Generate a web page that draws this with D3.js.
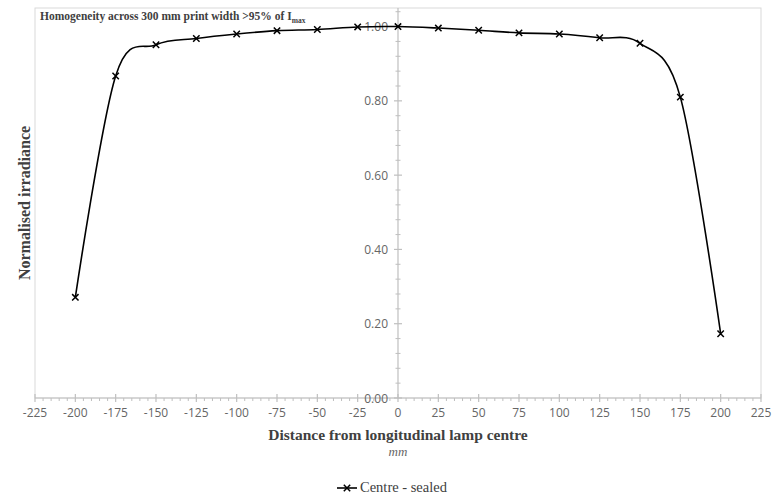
<!DOCTYPE html>
<html>
<head>
<meta charset="utf-8">
<script src="https://cdn.jsdelivr.net/npm/d3@7"></script>
<style>
  html, body { margin: 0; padding: 0; background: #ffffff; }
  svg { display: block; }
</style>
</head>
<body>
<svg id="chart" width="783" height="496"></svg>
<script>
// Lamp irradiance profile across the print width
const positions = [-200, -175, -150, -125, -100, -75, -50, -25, 0, 25, 50, 75, 100, 125, 150, 175, 200];
const irradiance = [0.271, 0.867, 0.951, 0.968, 0.980, 0.989, 0.992, 0.999, 1.000, 0.996, 0.990, 0.983, 0.980, 0.970, 0.955, 0.810, 0.173];
const seriesName = "Centre - sealed";
const xTicks = [-225, -200, -175, -150, -125, -100, -75, -50, -25, 0, 25, 50, 75, 100, 125, 150, 175, 200, 225];
const yTicks = [0, 0.2, 0.4, 0.6, 0.8, 1.0];

const svg = d3.select("#chart");
const plot = { left: 35, right: 761, top: 8, bottom: 398 };

const x = d3.scaleLinear().domain([-225, 225]).range([plot.left, plot.right]);
const y = d3.scaleLinear().domain([0, 1.05]).range([plot.bottom, plot.top]);

const gridGrey = "#d9d9d9";
const axisGrey = "#bfbfbf";
const labelGrey = "#666666";
const titleGrey = "#404040";
const serif = "'Liberation Serif', 'DejaVu Serif', serif";
const sans = "'Open Sans', 'Liberation Sans', sans-serif";

// plot area border
svg.append("rect")
  .attr("x", plot.left).attr("y", plot.top)
  .attr("width", plot.right - plot.left).attr("height", plot.bottom - plot.top)
  .attr("fill", "none").attr("stroke", gridGrey).attr("stroke-width", 1);

// horizontal axis (at value 0)
const y0 = y(0);
const gx = svg.append("g");
gx.append("line")
  .attr("x1", plot.left).attr("x2", plot.right)
  .attr("y1", y0).attr("y2", y0)
  .attr("stroke", axisGrey).attr("stroke-width", 1.2);
// minor ticks every 5 mm
gx.selectAll("line.minor")
  .data(d3.range(-225, 226, 5).filter(v => v % 25 !== 0))
  .join("line").attr("class", "minor")
  .attr("x1", d => x(d)).attr("x2", d => x(d))
  .attr("y1", y0).attr("y2", y0 + 3)
  .attr("stroke", axisGrey).attr("stroke-width", 1);
gx.selectAll("line.major")
  .data(xTicks)
  .join("line").attr("class", "major")
  .attr("x1", d => x(d)).attr("x2", d => x(d))
  .attr("y1", y0 - 4).attr("y2", y0 + 4)
  .attr("stroke", axisGrey).attr("stroke-width", 1.2);
gx.selectAll("text")
  .data(xTicks)
  .join("text")
  .attr("x", d => x(d)).attr("y", 417)
  .attr("text-anchor", "middle")
  .attr("font-family", sans).attr("font-size", 12)
  .attr("fill", labelGrey)
  .text(d => String(d));

// vertical axis (at 0 mm)
const xc = x(0);
const gy = svg.append("g");
gy.append("line")
  .attr("x1", xc).attr("x2", xc)
  .attr("y1", plot.top).attr("y2", plot.bottom)
  .attr("stroke", axisGrey).attr("stroke-width", 1.2);
gy.selectAll("line.minor")
  .data(d3.range(1, 27).map(i => i * 0.04).filter(v => v <= 1.05 && Math.abs(v * 5 - Math.round(v * 5)) > 1e-6))
  .join("line").attr("class", "minor")
  .attr("x1", xc - 2.5).attr("x2", xc + 2.5)
  .attr("y1", d => y(d)).attr("y2", d => y(d))
  .attr("stroke", axisGrey).attr("stroke-width", 1);
gy.selectAll("line.major")
  .data(yTicks)
  .join("line").attr("class", "major")
  .attr("x1", xc - 4).attr("x2", xc + 4)
  .attr("y1", d => y(d)).attr("y2", d => y(d))
  .attr("stroke", axisGrey).attr("stroke-width", 1.2);
gy.selectAll("text")
  .data(yTicks)
  .join("text")
  .attr("x", xc - 10).attr("y", d => y(d) + 4.5)
  .attr("text-anchor", "end")
  .attr("font-family", sans).attr("font-size", 12)
  .attr("fill", labelGrey)
  .text(d => d3.format(".2f")(d));

// smoothed data line
const line = d3.line()
  .x((d, i) => x(positions[i]))
  .y(d => y(d))
  .curve(d3.curveCardinal.tension(0));
svg.append("path")
  .datum(irradiance)
  .attr("d", line)
  .attr("fill", "none")
  .attr("stroke", "#000000")
  .attr("stroke-width", 1.6);

// cross markers
const cross = (cx, cy, r) => `M${cx - r},${cy - r}L${cx + r},${cy + r}M${cx - r},${cy + r}L${cx + r},${cy - r}`;
svg.append("g").selectAll("path")
  .data(irradiance)
  .join("path")
  .attr("d", (d, i) => cross(x(positions[i]), y(d), 3.2))
  .attr("stroke", "#000000").attr("stroke-width", 1.5).attr("fill", "none");

// annotation in the top-left corner
const note = svg.append("text")
  .attr("x", 40).attr("y", 20)
  .attr("font-family", serif).attr("font-size", 11.5).attr("font-weight", "bold")
  .attr("fill", titleGrey);
note.append("tspan").text("Homogeneity across 300 mm print width >95% of I");
note.append("tspan").attr("font-size", 7.5).attr("dy", 2.5).text("max");

// axis titles
svg.append("text")
  .attr("x", xc).attr("y", 440)
  .attr("text-anchor", "middle")
  .attr("font-family", serif).attr("font-size", 15.5).attr("font-weight", "bold")
  .attr("fill", titleGrey)
  .text("Distance from longitudinal lamp centre");
svg.append("text")
  .attr("x", xc).attr("y", 456)
  .attr("text-anchor", "middle")
  .attr("font-family", serif).attr("font-size", 13).attr("font-style", "italic")
  .attr("fill", labelGrey)
  .text("mm");
svg.append("text")
  .attr("transform", "translate(30,203) rotate(-90)")
  .attr("text-anchor", "middle")
  .attr("font-family", serif).attr("font-size", 16).attr("font-weight", "bold")
  .attr("fill", titleGrey)
  .text("Normalised irradiance");

// legend
const lg = svg.append("g");
lg.append("line")
  .attr("x1", 337).attr("x2", 357).attr("y1", 488).attr("y2", 488)
  .attr("stroke", "#000000").attr("stroke-width", 1.6);
lg.append("path")
  .attr("d", cross(347, 488, 3.2))
  .attr("stroke", "#000000").attr("stroke-width", 1.5).attr("fill", "none");
lg.append("text")
  .attr("x", 360).attr("y", 492)
  .attr("font-family", serif).attr("font-size", 14.5)
  .attr("fill", titleGrey)
  .text(seriesName);
</script>
</body>
</html>
